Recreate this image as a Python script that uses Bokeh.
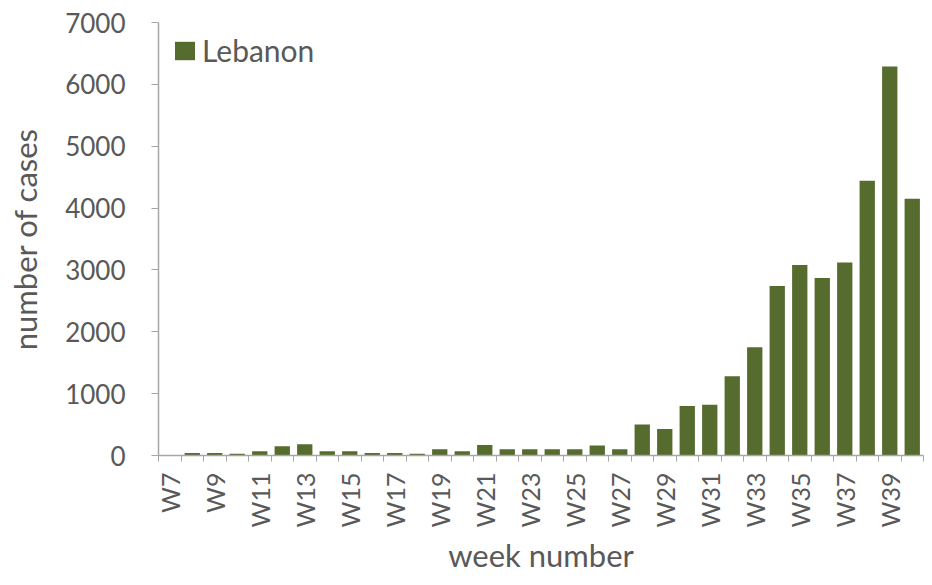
import math
from bokeh.plotting import figure
from bokeh.models import Range1d, FixedTicker, ColumnDataSource, Legend, LegendItem
from bokeh.embed import file_html
from bokeh.resources import INLINE

weeks = ["W7", "W8", "W9", "W10", "W11", "W12", "W13", "W14", "W15", "W16",
         "W17", "W18", "W19", "W20", "W21", "W22", "W23", "W24", "W25", "W26",
         "W27", "W28", "W29", "W30", "W31", "W32", "W33", "W34", "W35", "W36",
         "W37", "W38", "W39", "W40"]
cases = [10, 40, 40, 30, 70, 150, 180, 70, 70, 40,
         40, 30, 100, 70, 170, 100, 100, 100, 100, 160,
         100, 500, 430, 800, 820, 1280, 1750, 2740, 3080, 2870,
         3120, 4440, 6290, 4150]
y_ticks = [0, 1000, 2000, 3000, 4000, 5000, 6000, 7000]
series_name = "Lebanon"

FONT = "Lato"
TXT = "#595959"
AXC = "#A6A6A6"
BAR = "#566B2E"

idx = list(range(len(weeks)))
src = ColumnDataSource(dict(x=idx, top=cases, label=weeks))

p = figure(width=924, height=577, output_backend="svg", toolbar_location=None,
           x_range=Range1d(-0.5, len(weeks) - 0.5), y_range=Range1d(0, 7000),
           min_border_left=158, min_border_right=1, min_border_top=22,
           min_border_bottom=122)
p.outline_line_color = None
p.xgrid.visible = False
p.ygrid.visible = False

r = p.vbar(x="x", top="top", width=0.68, source=src, fill_color=BAR, line_color=None)

# x axis
xa = p.xaxis[0]
xa.ticker = FixedTicker(ticks=idx[::2], minor_ticks=[i - 0.5 for i in range(len(weeks) + 1)])
xa.major_label_overrides = {i: weeks[i] for i in idx[::2]}
xa.major_label_orientation = math.pi / 2
xa.major_tick_line_color = None
xa.major_tick_out = 0
xa.major_tick_in = 0
xa.minor_tick_out = 6
xa.minor_tick_in = 0
xa.minor_tick_line_color = AXC
xa.axis_line_color = AXC
xa.axis_line_width = 1.5
xa.major_label_text_font = FONT
xa.major_label_text_font_size = "25px"
xa.major_label_text_color = TXT
xa.major_label_standoff = 11
xa.axis_label = "week number"
xa.axis_label_text_font = FONT
xa.axis_label_text_font_size = "31px"
xa.axis_label_text_font_style = "normal"
xa.axis_label_text_color = TXT
xa.axis_label_standoff = 6

# y axis
ya = p.yaxis[0]
ya.ticker = FixedTicker(ticks=y_ticks)
ya.major_tick_out = 7
ya.major_tick_in = 0
ya.minor_tick_line_color = None
ya.major_tick_line_color = AXC
ya.axis_line_color = AXC
ya.axis_line_width = 1.5
ya.major_label_text_font = FONT
ya.major_label_text_font_size = "26px"
ya.major_label_text_color = TXT
ya.major_label_standoff = 26
ya.axis_label = "number of cases"
ya.axis_label_text_font = FONT
ya.axis_label_text_font_size = "31px"
ya.axis_label_text_font_style = "normal"
ya.axis_label_text_color = TXT
ya.axis_label_standoff = 18

legend = Legend(items=[LegendItem(label=series_name, renderers=[r])],
                location=(14, 387), margin=0, padding=0,
                glyph_width=25, glyph_height=23, label_standoff=5,
                label_text_font=FONT, label_text_font_size="30px",
                label_text_color=TXT, border_line_color=None,
                background_fill_alpha=0)
p.add_layout(legend)

open("out.html", "w").write(file_html(p, INLINE))
